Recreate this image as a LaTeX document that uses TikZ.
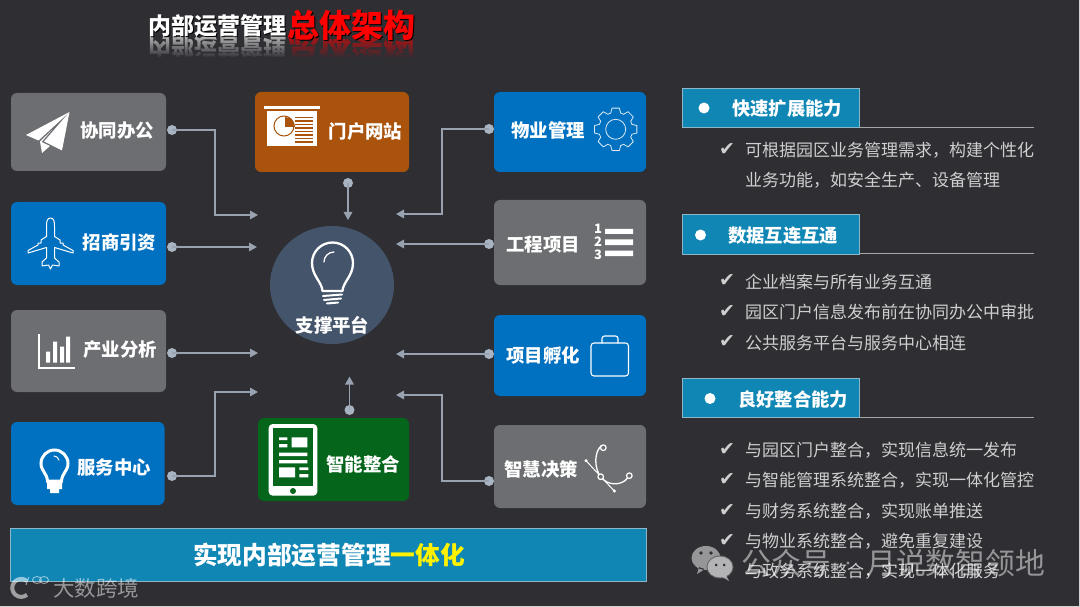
\documentclass[tikz,border=0pt]{standalone}
\usepackage{fontspec}
\setmainfont{Noto Sans CJK SC}
\newfontfamily\symfont{DejaVu Sans}
\usetikzlibrary{arrows.meta,fadings,calc,shapes.geometric}
\definecolor{bgc}{HTML}{2E2E33}
\definecolor{grayb}{HTML}{6D6E71}
\definecolor{blueb}{HTML}{0070C0}
\definecolor{brownb}{HTML}{A9530C}
\definecolor{greenb}{HTML}{04651B}
\definecolor{hubc}{HTML}{44546A}
\definecolor{bannerc}{HTML}{1086B4}
\definecolor{bannerl}{HTML}{8DB6C6}
\definecolor{linec}{HTML}{98A2B1}
\definecolor{dotc}{HTML}{A9B4C2}
\definecolor{listc}{HTML}{CFCFCF}
\tikzset{
  lab/.style={text=white,font=\fontsize{18.4}{20}\selectfont\bfseries,inner sep=0pt,yshift=-.8pt},
  dotn/.style={circle,fill=dotc,minimum size=10pt,inner sep=0pt,outer sep=0pt},
  conn/.style={draw=linec,line width=1.5pt,-{Triangle[length=8pt,width=8.5pt]}},
  ico/.style={draw=white,line width=1pt,line join=round,line cap=round},
  hdr/.style={fill=bannerc,draw=bannerl,line width=1pt},
  hdrlab/.style={text=white,font=\fontsize{18.3}{20}\selectfont\bfseries,inner sep=0pt,anchor=west,yshift=-.8pt},
  item/.style={text=listc,font=\fontsize{17}{19}\selectfont,inner sep=0pt,anchor=west,yshift=-.6pt},
  chk/.style={text=listc,font=\fontsize{19}{21}\selectfont\symfont,inner sep=0pt},
  wm/.style={text=white,text opacity=.5,inner sep=0pt}
}
\newcommand{\cardbox}[6]{\fill[#6,rounded corners=6pt] (#2,#3) rectangle (#4,#5); \coordinate (#1) at ({(#2+#4)/2},{(#3+#5)/2});}
\begin{document}
\begin{tikzpicture}[x=1pt,y=-1pt]
\useasboundingbox (0,0) rectangle (1080,607);
\fill[gray!35] (0,0) rectangle (1080,607);
\fill[bgc] (0,0) rectangle (1078.5,605.5);

% title reflection and title
\node[yscale=-1,transform shape,text=white,text opacity=.65,font=\fontsize{23}{25}\selectfont\bfseries,inner sep=0pt] (tr1) at (217,47) {内部运营管理};
\node[yscale=-1,transform shape,text=red,text opacity=.65,font=\fontsize{32}{34}\selectfont\bfseries,inner sep=0pt] (tr2) at (351.5,50) {总体架构};
\fill[bgc,path fading=north] (140,36) rectangle (425,58);
\fill[bgc] (140,57.5) rectangle (425,72);
\node[text=black,font=\fontsize{23}{25}\selectfont\bfseries,inner sep=0pt] (ts1) at (218,27) {内部运营管理};
\node[text=white,font=\fontsize{23}{25}\selectfont\bfseries,inner sep=0pt] (t1) at (217,26) {内部运营管理};
\node[text=black,font=\fontsize{32}{34}\selectfont\bfseries,inner sep=0pt] (ts2) at (352.5,26) {总体架构};
\node[text=red,font=\fontsize{32}{34}\selectfont\bfseries,inner sep=0pt] (t2) at (351.5,25) {总体架构};

% cards
\cardbox{c1}{11}{93}{166}{171}{grayb}
\cardbox{c2}{11}{202}{166}{285}{blueb}
\cardbox{c3}{11}{310}{166}{392}{grayb}
\cardbox{c4}{11}{422}{164.5}{505}{blueb}
\cardbox{c5}{255}{92}{409}{172}{brownb}
\cardbox{c6}{258}{418}{409}{501}{greenb}
\cardbox{c7}{494}{92}{646}{172}{blueb}
\cardbox{c8}{494}{200}{646}{285}{grayb}
\cardbox{c9}{494}{315}{646}{396}{blueb}
\cardbox{c10}{494}{425}{646}{508}{grayb}

% hub
\node[ellipse,fill=hubc,minimum width=124pt,minimum height=118pt,inner sep=0pt] (hub) at (332,285) {};
\draw[white,line width=2.3pt,line join=round,line cap=round]
  (322.5,291) .. controls (322,282) and (312,276) .. (312,263) arc[start angle=180,end angle=360,radius=20.5] .. controls (353,276) and (343,282) .. (342.5,291) -- cycle;
\draw[white,line width=1.3pt,line cap=round] (324,262) arc[start angle=180,end angle=270,radius=10];
\draw[white,line width=2pt,line cap=round] (323,296) -- (342,294.5) (324,300) -- (341,298.5) (327,303.5) -- (338,302.5);
\node[lab] (hubl) at (332.5,324.5) {支撑平台};

% labels
\node[lab] (l1) at (117,130) {协同办公};
\node[lab] (l2) at (119.5,242) {招商引资};
\node[lab] (l3) at (120,349) {产业分析};
\node[lab] (l4) at (114,467) {服务中心};
\node[lab] (l5) at (365.5,131) {门户网站};
\node[lab] (l6) at (363,463.5) {智能整合};
\node[lab] (l7) at (548,130) {物业管理};
\node[lab] (l8) at (543,244) {工程项目};
\node[lab] (l9) at (543,355) {项目孵化};
\node[lab] (l10) at (541,469) {智慧决策};

% connector dots, free ends, corners
\node[dotn] (d1) at (172,130) {};
\node[dotn] (d2) at (172,247) {};
\node[dotn] (d3) at (172,353) {};
\node[dotn] (d4) at (172,476) {};
\node[dotn] (d5) at (348,183) {};
\node[dotn] (d6) at (349.5,410) {};
\node[dotn] (d7) at (489,129) {};
\node[dotn] (d8) at (489,244) {};
\node[dotn] (d9) at (489,354) {};
\node[dotn] (d10) at (489,481) {};
\coordinate (e1) at (258,215);
\coordinate (e2) at (257,247);
\coordinate (e3) at (258,353);
\coordinate (e4) at (258,392);
\coordinate (e5) at (348,220);
\coordinate (e6) at (349.5,376.5);
\coordinate (e7) at (396,214);
\coordinate (e8) at (396,244);
\coordinate (e9) at (396,354);
\coordinate (e10) at (396,395);
\coordinate (k1) at (215,170);
\coordinate (k4) at (215,430);
\coordinate (k7) at (442,170);
\coordinate (k10) at (442,440);
\draw[conn] (d1.center) -| (k1) |- (e1);
\draw[conn] (d2.center) -- (e2);
\draw[conn] (d3.center) -- (e3);
\draw[conn] (d4.center) -| (k4) |- (e4);
\draw[conn] (d5.center) -- (e5);
\draw[conn] (d6.center) -- (e6);
\draw[conn] (d7.center) -| (k7) |- (e7);
\draw[conn] (d8.center) -- (e8);
\draw[conn] (d9.center) -- (e9);
\draw[conn] (d10.center) -| (k10) |- (e10);

% paper plane
\fill[white] (69.5,112) -- (26,135) -- (38.5,140.5) -- cycle;
\fill[white] (69.5,112) -- (44,141.5) -- (62,150.5) -- cycle;
\fill[white] (40,141.5) -- (42,153) -- (50,146) -- (41.5,142) -- (52,130) -- cycle;

% airplane
\draw[ico] (50.5,218) .. controls (47,218) and (46.5,222) .. (46.5,226) -- (46.5,236.5) -- (41,240) -- (41,243) -- (38,243) -- (38,245) -- (28,250.5) -- (28,253)
 -- (46.5,247.5) -- (46.5,258) -- (42,262) -- (42,266) -- (48.5,265) -- (50.5,269)
 -- (52.5,265) -- (59,266) -- (59,262) -- (54.5,258) -- (54.5,247.5) -- (73,253) -- (73,250.5) -- (63,245) -- (63,243) -- (60,243) -- (60,240) -- (54.5,236.5) -- (54.5,226) .. controls (54.5,222) and (54,218) .. (50.5,218) -- cycle;

% chart
\draw[white,line width=1.4pt] (39,334) -- (39,368) -- (75,368);
\fill[white] (46,351.7) rectangle (50,362.7) (53,341.7) rectangle (57,362.7) (60,346.7) rectangle (64,362.7) (66,336.7) rectangle (70,362.7);

% small bulb
\draw[white,line width=3pt] (47.5,481) .. controls (47,473) and (41,471) .. (41,463.5) arc[start angle=180,end angle=360,radius=13.5] .. controls (68,471) and (62,473) .. (61.5,481) -- cycle;
\fill[white] (47,481) rectangle (62,489) (50,489) rectangle (59,493);
\draw[white,line width=1pt,line cap=round] (54,456) arc[start angle=-90,end angle=-10,radius=5];

% presentation icon
\fill[white] (264,105.7) rectangle (320,109);
\fill[white] (267,110.7) rectangle (317,146);
\draw[brownb,line width=1pt] (284,127) ++(0,-1) circle[radius=10];
\fill[brownb] (285,127) -- (285,117) arc[start angle=-90,end angle=0,radius=10] -- cycle;
\foreach \yy in {117.5,121,124.5,128,131.5,135,138.5,142}{\draw[brownb,line width=1.2pt] (295,\yy) -- (313,\yy);}

% tablet
\fill[white,rounded corners=4pt] (268.7,424) rectangle (317.3,495.7);
\fill[greenb] (272.7,428.3) rectangle (313.3,486);
\fill[white] (279,437.3) rectangle (287.3,440) (279,444) rectangle (287.3,447.3) (291.7,437.3) rectangle (307.3,447.3)
 (279,452.7) rectangle (307.3,456) (279,460) rectangle (307.3,463.3)
 (279,467.3) rectangle (295,477.3) (299.3,467.3) rectangle (308.3,470) (299.3,474) rectangle (308.3,477.3);
\fill[greenb] (293,491) circle[radius=3];

% gear
\begin{scope}[shift={(615.7,129.3)}]
\foreach \a in {0,45,...,315}{
  \draw[ico,line width=.8pt,draw=white!85!blueb] (\a-17:17) -- (\a-10:21.5) -- (\a+10:21.5) -- (\a+17:17) -- (\a+28:17);}
\draw[ico,line width=.8pt,draw=white!85!blueb] (0,0) circle[radius=10];
\end{scope}

% numbered list
\fill[white] (605,229) rectangle (633,234) (605,239.3) rectangle (633,245) (605,250.7) rectangle (633,256);
\foreach \nn/\yy in {1/229,2/242,3/255}{\node[text=white,inner sep=0pt,font=\fontsize{13}{14}\selectfont\bfseries] (n\nn) at (598,\yy) {\nn};}

% briefcase
\draw[ico,line width=1.1pt,rounded corners=3pt] (591,343) rectangle (628.5,376);
\draw[ico,line width=1.1pt,rounded corners=2.5pt] (602,343) -- (602,336) -- (618,336) -- (618,343);

% bezier
\draw[white,line width=1pt] (586,460.7) -- (614.3,491);
\draw[white,line width=1.3pt] (601.5,445.5) .. controls (594,452) and (594,468) .. (600.7,476.7) .. controls (607,486) and (622,486) .. (627.5,478);
\foreach \px/\py in {603.3/447.7,600.7/476.7,629.3/475.7}{\draw[white,line width=1.2pt,fill=grayb] (\px,\py) circle[radius=2.8];}
\fill[white] (586,460.7) circle[radius=1.7] (614.3,491) circle[radius=1.7];

% banner
\fill[bannerc,draw=bannerl,line width=1pt] (10.5,528) rectangle (646,581);
\node[inner sep=0pt,text=white,font=\fontsize{24.7}{27}\selectfont\bfseries] (bn) at (329,555) {实现内部运营管理\textcolor{yellow}{一体化}};

% right section headers
\draw[draw=gray!70,line width=1pt] (859,127.7) -- (1034,127.7) (859,253.7) -- (1034,253.7) (859,417.3) -- (1034,417.3);
\path[hdr] (682.5,88.5) rectangle (859,128);
\path[hdr] (682.5,214.5) rectangle (859,254);
\path[hdr] (682.5,378) rectangle (859,417.5);
\fill[white] (704,108) circle[radius=5.5] (700.5,235) circle[radius=5.5] (710,398.5) circle[radius=5.5];
\node[hdrlab] (h1) at (732,108) {快速扩展能力};
\node[hdrlab] (h2) at (728,235) {数据互连互通};
\node[hdrlab] (h3) at (738,398.5) {良好整合能力};

% lists
\foreach \yy in {150,281,311.5,342,450,480,510.5,541,571}{\node[chk] at (727,\yy) {✔};}
\node[item] (i1) at (745,150) {可根据园区业务管理需求，构建个性化};
\node[item] (i2) at (745,180) {业务功能，如安全生产、设备管理};
\node[item] (i3) at (745,281) {企业档案与所有业务互通};
\node[item] (i4) at (745,311.5) {园区门户信息发布前在协同办公中审批};
\node[item] (i5) at (745,342) {公共服务平台与服务中心相连};
\node[item] (i6) at (745,450) {与园区门户整合，实现信息统一发布};
\node[item] (i7) at (745,480) {与智能管理系统整合，实现一体化管控};
\node[item] (i8) at (745,510.5) {与财务系统整合，实现账单推送};
\node[item] (i9) at (745,541) {与物业系统整合，避免重复建设};
\node[item] (i10) at (745,571) {与政务系统整合，实现一体化服务};

% wechat watermark
\fill[white,opacity=.5] (706,558) ellipse[x radius=14.5,y radius=12] (699,567) -- (697,574) -- (705,569) -- cycle;
\fill[bgc!75!white] (720,567) ellipse[x radius=13.5,y radius=11.5];
\fill[white,opacity=.52] (720,567) ellipse[x radius=12.5,y radius=10.5] (726,575) -- (729,581) -- (722,577) -- cycle;
\fill[bgc] (701,553) circle[radius=1.8] (711,553) circle[radius=1.8] (716,565) circle[radius=1.5] (724,565) circle[radius=1.5];
\node[wm,anchor=west,font=\fontsize{29.8}{31}\selectfont] (w1) at (741.5,563) {公众号};
\fill[white,opacity=.5] (848,563) circle[radius=1.6];
\node[wm,anchor=west,font=\fontsize{29.8}{31}\selectfont] (w2) at (866,563) {月说数智领地};

% bottom-left watermark
\draw[white,opacity=.55,line width=4pt] (27,581) arc[start angle=-50,end angle=-310,radius=9];
\draw[white,opacity=.55,line width=.9pt] (26,585) -- (29,577) (37,580) ellipse[x radius=4.5,y radius=3.5] (44,580) ellipse[x radius=4.5,y radius=3.5];
\node[wm,font=\fontsize{21.5}{23}\selectfont] (w3) at (96,588) {大数跨境};
\end{tikzpicture}
\end{document}
